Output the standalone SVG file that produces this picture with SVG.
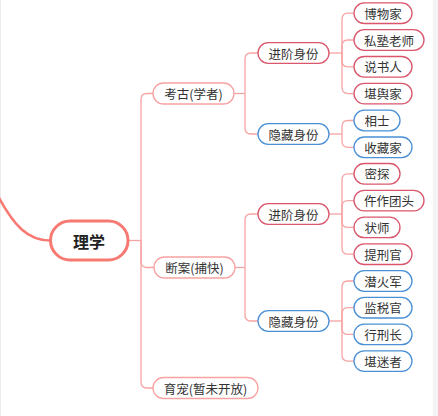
<svg xmlns="http://www.w3.org/2000/svg" width="438" height="416" viewBox="0 0 438 416">
<style>
.c{fill:none;stroke:#f8a3a3;stroke-width:1.3}
.l1{fill:#fff;stroke:#f7a3a3;stroke-width:1.3}
.r{fill:#fff;stroke:#d9566c;stroke-width:1.3}
.b{fill:#fff;stroke:#4a90d6;stroke-width:1.3}
text{font-family:"Noto Sans CJK SC","Noto Sans",sans-serif;font-size:12.5px;fill:#333;text-anchor:middle;dominant-baseline:central}
.root{font-size:16px;font-weight:bold;fill:#222}
</style>
<rect x="0" y="0" width="438" height="416" fill="#fff"/>
<rect x="0" y="0" width="1" height="416" fill="#ececec"/>
<rect x="433" y="0" width="5" height="416" fill="#f4f4f4"/>
<g id="connectors">
<path d="M-2 196 C14 226 28 240.5 50 240.5" fill="none" stroke="#f77a72" stroke-width="2.6"/>
<path class="c" d="M128 240.5 H141"/>
<path class="c" d="M141 240.5 V99.5 Q141 93.5 147 93.5 H153"/>
<path class="c" d="M141 240.5 V261.5 Q141 267.5 147 267.5 H154"/>
<path class="c" d="M141 240.5 V382 Q141 388 147 388 H153"/>
<path class="c" d="M234 93.5 H245"/>
<path class="c" d="M245 93.5 V59 Q245 53 251 53 H258"/>
<path class="c" d="M245 93.5 V128 Q245 134 251 134 H258"/>
<path class="c" d="M235 267.5 H245"/>
<path class="c" d="M245 267.5 V220 Q245 214 251 214 H258"/>
<path class="c" d="M245 267.5 V315 Q245 321 251 321 H258"/>
<path class="c" d="M329 53 H342"/>
<path class="c" d="M342 53 V19.2 Q342 13.2 348 13.2 H354"/>
<path class="c" d="M342 53 V46 Q342 40 348 40 H354"/>
<path class="c" d="M342 53 V60.8 Q342 66.8 348 66.8 H354"/>
<path class="c" d="M342 53 V87.6 Q342 93.6 348 93.6 H354"/>
<path class="c" d="M329 134 H342"/>
<path class="c" d="M342 134 V126.5 Q342 120.5 348 120.5 H354"/>
<path class="c" d="M342 134 V141.3 Q342 147.3 348 147.3 H354"/>
<path class="c" d="M329 214 H342"/>
<path class="c" d="M342 214 V179.8 Q342 173.8 348 173.8 H354"/>
<path class="c" d="M342 214 V206.6 Q342 200.6 348 200.6 H354"/>
<path class="c" d="M342 214 V221.4 Q342 227.4 348 227.4 H354"/>
<path class="c" d="M342 214 V248.2 Q342 254.2 348 254.2 H354"/>
<path class="c" d="M329 321 H342"/>
<path class="c" d="M342 321 V287 Q342 281 348 281 H354"/>
<path class="c" d="M342 321 V313.7 Q342 307.7 348 307.7 H354"/>
<path class="c" d="M342 321 V328.4 Q342 334.4 348 334.4 H354"/>
<path class="c" d="M342 321 V355.1 Q342 361.1 348 361.1 H354"/>
</g>
<g id="root"><rect x="50.5" y="221" width="77.5" height="39" rx="19.5" fill="#fff" stroke="#f77a72" stroke-width="3"/><text class="root" x="89" y="241">理学</text></g>
<g id="kaogu"><rect class="l1" x="153" y="83" width="81" height="21" rx="10.5"/><text x="193.5" y="93.5">考古(学者)</text></g>
<g id="duanan"><rect class="l1" x="154" y="257" width="81" height="21" rx="10.5"/><text x="194.5" y="267.5">断案(捕快)</text></g>
<g id="yuchong"><rect class="l1" x="153" y="377.5" width="105" height="21" rx="10.5"/><text x="205.5" y="388">育宠(暂未开放)</text></g>
<g id="jinjie1"><rect class="r" x="258" y="42.7" width="71" height="20.6" rx="10.3"/><text x="293.5" y="53">进阶身份</text></g>
<g id="yincang1"><rect class="b" x="258" y="123.7" width="71" height="20.6" rx="10.3"/><text x="293.5" y="134">隐藏身份</text></g>
<g id="jinjie2"><rect class="r" x="258" y="203.7" width="71" height="20.6" rx="10.3"/><text x="293.5" y="214">进阶身份</text></g>
<g id="yincang2"><rect class="b" x="258" y="310.7" width="71" height="20.6" rx="10.3"/><text x="293.5" y="321">隐藏身份</text></g>
<g id="n1"><rect class="r" x="354" y="2.9" width="58" height="20.6" rx="10.3"/><text x="383" y="13.2">博物家</text></g>
<g id="n2"><rect class="r" x="354" y="29.7" width="70" height="20.6" rx="10.3"/><text x="389" y="40">私塾老师</text></g>
<g id="n3"><rect class="r" x="354" y="56.5" width="58" height="20.6" rx="10.3"/><text x="383" y="66.8">说书人</text></g>
<g id="n4"><rect class="r" x="354" y="83.3" width="58" height="20.6" rx="10.3"/><text x="383" y="93.6">堪舆家</text></g>
<g id="n5"><rect class="b" x="354" y="110.2" width="46" height="20.6" rx="10.3"/><text x="377" y="120.5">相士</text></g>
<g id="n6"><rect class="b" x="354" y="137" width="58" height="20.6" rx="10.3"/><text x="383" y="147.3">收藏家</text></g>
<g id="n7"><rect class="r" x="354" y="163.5" width="46" height="20.6" rx="10.3"/><text x="377" y="173.8">密探</text></g>
<g id="n8"><rect class="r" x="354" y="190.3" width="70" height="20.6" rx="10.3"/><text x="389" y="200.6">仵作团头</text></g>
<g id="n9"><rect class="r" x="354" y="217.1" width="46" height="20.6" rx="10.3"/><text x="377" y="227.4">状师</text></g>
<g id="n10"><rect class="r" x="354" y="243.9" width="58" height="20.6" rx="10.3"/><text x="383" y="254.2">提刑官</text></g>
<g id="n11"><rect class="b" x="354" y="270.7" width="58" height="20.6" rx="10.3"/><text x="383" y="281">潜火军</text></g>
<g id="n12"><rect class="b" x="354" y="297.4" width="58" height="20.6" rx="10.3"/><text x="383" y="307.7">监税官</text></g>
<g id="n13"><rect class="b" x="354" y="324.1" width="58" height="20.6" rx="10.3"/><text x="383" y="334.4">行刑长</text></g>
<g id="n14"><rect class="b" x="354" y="350.8" width="58" height="20.6" rx="10.3"/><text x="383" y="361.1">堪迷者</text></g>
</svg>
